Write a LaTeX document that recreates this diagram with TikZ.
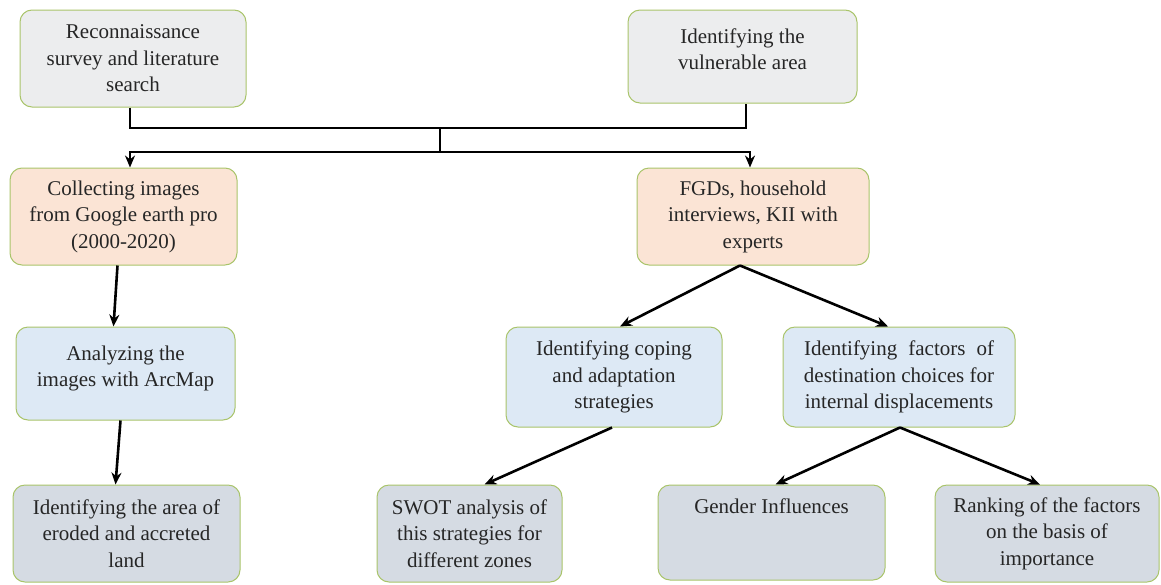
\documentclass[tikz,border=0pt]{standalone}
\usepackage{fontspec}
\setmainfont{Liberation Serif}
\newfontfamily\timesf{Liberation Serif}
\usetikzlibrary{arrows.meta}
\definecolor{bgray}{HTML}{ECEDEE}
\definecolor{bordergreen}{HTML}{A9C46A}
\definecolor{peach}{HTML}{FBE4D5}
\definecolor{lblue}{HTML}{DDE9F5}
\definecolor{bluegray}{HTML}{D5DBE3}
\tikzset{
  box/.style={draw=bordergreen, line width=1pt, rounded corners=12pt, align=center,
    inner sep=0pt, text=black!85, font=\timesf\fontsize{21}{26.5}\selectfont},
  conn/.style={line width=2.6pt, draw=black},
  arr/.style={conn, -{Stealth[length=12pt,width=10pt]}}
}
\begin{document}
\begin{tikzpicture}[x=1pt,y=-1pt]
\useasboundingbox (0,0) rectangle (1161,584);
% row 1
\node[box, fill=bgray, minimum width=226pt, minimum height=97pt] (b1) at (133,58.5)
  {Reconnaissance\\survey and literature\\search};
\node[box, fill=bgray, minimum width=229pt, minimum height=93pt] (b2) at (742.5,56.5)
  {Identifying the\\vulnerable area\\[-12pt]\mbox{}};
% row 2
\node[box, fill=peach, minimum width=227pt, minimum height=97pt] (b3) at (123.5,216.5)
  {Collecting images\\from Google earth pro\\(2000-2020)};
\node[box, fill=peach, minimum width=232pt, minimum height=97pt] (b4) at (753,216.5)
  {FGDs, household\\interviews, KII with\\experts};
% row 3
\node[box, fill=lblue, minimum width=219pt, minimum height=93pt] (b5) at (125.5,373.5)
  {Analyzing the\\images with ArcMap\\[-12pt]\mbox{}};
\node[box, fill=lblue, minimum width=216pt, minimum height=100pt] (b6) at (614,377)
  {Identifying coping\\and adaptation\\strategies};
\node[box, fill=lblue, minimum width=232pt, minimum height=100pt] (b7) at (899,377)
  {\hbox to 190pt{Identifying\hfil factors\hfil of}\\destination choices for\\internal displacements};
% row 4
\node[box, fill=bluegray, minimum width=227pt, minimum height=97pt] (b8) at (126.5,533.5)
  {Identifying the area of\\eroded and accreted\\land};
\node[box, fill=bluegray, minimum width=185pt, minimum height=97pt] (b9) at (469.5,533.5)
  {SWOT analysis of\\this strategies for\\different zones};
\node[box, fill=bluegray, minimum width=227pt, minimum height=95pt] (b10) at (771.5,532.5)
  {Gender Influences\\\mbox{}\\\mbox{}};
\node[box, fill=bluegray, minimum width=224pt, minimum height=97pt] (b11) at (1047,533.5)
  {Ranking of the factors\\on the basis of\\importance};
% connectors
\coordinate (j1) at (440,128);
\coordinate (j2) at (440,152);
\draw[conn] ([xshift=-3pt]b1.south) |- (j1) -| ([xshift=3.5pt]b2.south);
\draw[conn] (j1) -- (j2);
\draw[arr] (j2) -| ([xshift=6.5pt]b3.north);
\draw[arr] (j2) -| ([xshift=-3pt]b4.north);
\draw[arr] ([xshift=-6pt]b3.south) -- ([xshift=-12pt]b5.north);
\draw[arr] ([xshift=-5pt]b5.south) -- ([xshift=-11pt]b8.north);
\draw[arr] ([xshift=-13pt]b4.south) -- ([xshift=6pt]b6.north);
\draw[arr] ([xshift=-13pt]b4.south) -- ([xshift=-11pt]b7.north);
\draw[arr] ([xshift=-2pt]b6.south) -- ([xshift=15pt]b9.north);
\draw[arr] ([xshift=1pt]b7.south) -- ([xshift=4pt]b10.north);
\draw[arr] ([xshift=1pt]b7.south) -- ([xshift=-7pt]b11.north);
\end{tikzpicture}
\end{document}
